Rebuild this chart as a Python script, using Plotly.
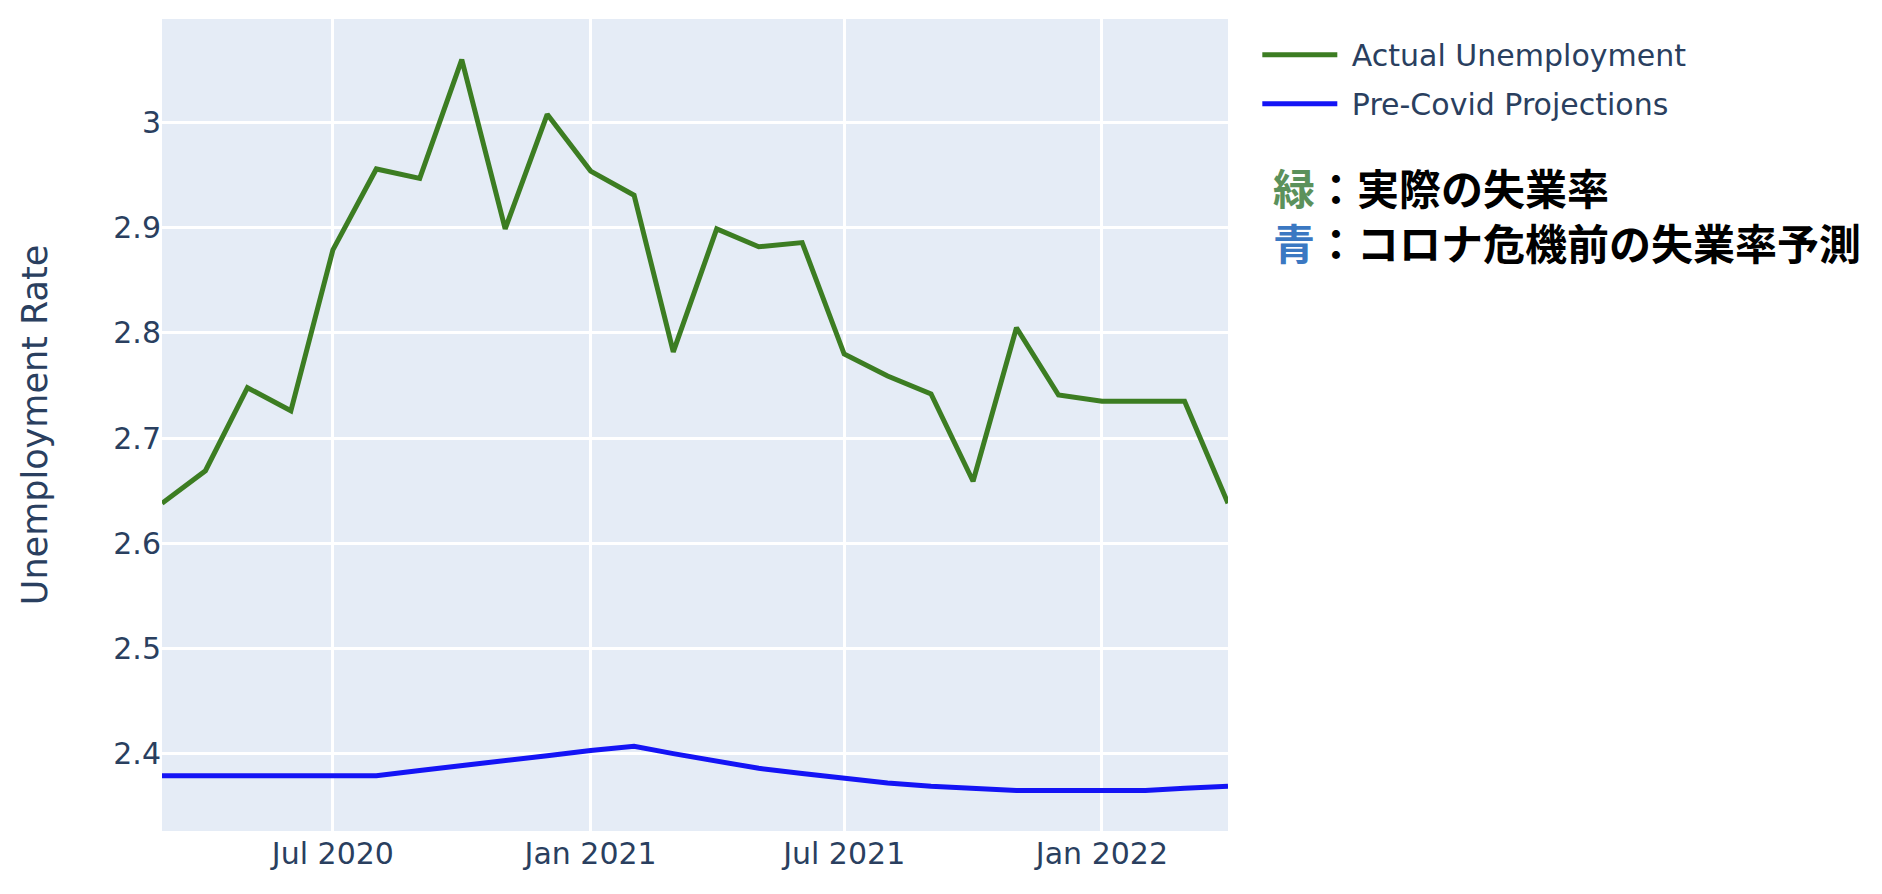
import plotly.graph_objects as go

months = ["2020-03-01", "2020-04-01", "2020-05-01", "2020-06-01", "2020-07-01", "2020-08-01",
          "2020-09-01", "2020-10-01", "2020-11-01", "2020-12-01", "2021-01-01", "2021-02-01",
          "2021-03-01", "2021-04-01", "2021-05-01", "2021-06-01", "2021-07-01", "2021-08-01",
          "2021-09-01", "2021-10-01", "2021-11-01", "2021-12-01", "2022-01-01", "2022-02-01",
          "2022-03-01", "2022-04-01"]

actual_unemployment = [2.638, 2.669, 2.748, 2.726, 2.879, 2.956, 2.947, 3.060, 2.899, 3.008,
                       2.954, 2.931, 2.782, 2.899, 2.882, 2.886, 2.780, 2.759, 2.742, 2.659,
                       2.805, 2.741, 2.735, 2.735, 2.735, 2.638]

pre_covid_projections = [2.379, 2.379, 2.379, 2.379, 2.379, 2.379, 2.384, 2.389, 2.394, 2.398,
                         2.403, 2.407, 2.400, 2.393, 2.386, 2.381, 2.376, 2.372, 2.369, 2.367,
                         2.365, 2.365, 2.365, 2.365, 2.367, 2.369]

series_names = ["Actual Unemployment", "Pre-Covid Projections"]
series_colors = ["#3c7d22", "#1414f5"]

note_lines = [("緑", "#5b915b", "：実際の失業率"),
              ("青", "#3b78c2", "：コロナ危機前の失業率予測")]

fig = go.Figure()
fig.add_trace(go.Scatter(x=months, y=actual_unemployment, mode="lines",
                         name="\u00a0" + series_names[0], legendgroup="g1",
                         line=dict(color=series_colors[0], width=5)))
fig.add_trace(go.Scatter(x=months, y=pre_covid_projections, mode="lines",
                         name="\u00a0" + series_names[1], legendgroup="g2",
                         line=dict(color=series_colors[1], width=5)))

note_text = "<br>".join(
    f"<span style='color:{c}'>{k}</span>{rest}" for k, c, rest in note_lines)

fig.add_annotation(xref="paper", yref="paper", x=1.040, y=0.760, xanchor="left", yanchor="middle",
                   text=note_text, showarrow=False, align="left",
                   font=dict(family="Noto Sans CJK JP", size=42, color="black", weight="bold"))

fig.update_layout(
    width=1882, height=894,
    template="plotly",
    font=dict(family="DejaVu Sans, Verdana, sans-serif", size=30, color="#2a3f5f"),
    margin=dict(l=162, r=654, t=19, b=63, autoexpand=False),
    legend=dict(x=1.0275, y=0.988, font=dict(size=30), itemwidth=75, tracegroupgap=7),
    xaxis=dict(gridwidth=2.5, showline=False, dtick="M6", tickformat="%b %Y", ticklabelstandoff=2),
    yaxis=dict(title=dict(text="Unemployment Rate", font=dict(size=35), standoff=55),
               gridwidth=2.5, dtick=0.1, zeroline=False, ticklabelstandoff=0),
)

fig.write_html("out.html", config={"displayModeBar": False},
               post_script="document.body.style.margin='0';")
